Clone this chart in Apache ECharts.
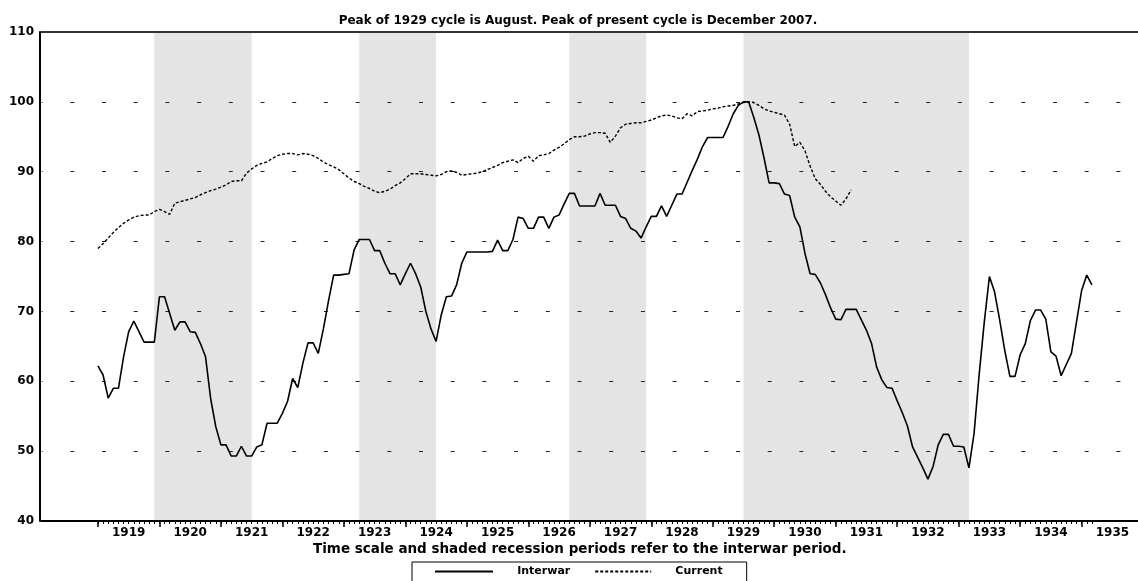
<!DOCTYPE html>
<html lang="en">
<head>
<meta charset="UTF-8">
<title>Interwar vs Current</title>
<script src="https://cdn.jsdelivr.net/npm/echarts@6/dist/echarts.min.js"></script>
<style>
  html, body { margin: 0; padding: 0; background: #fff; }
  #chart { width: 1138px; height: 581px; }
</style>
</head>
<body>
<div id="chart"></div>
<script type="text/javascript">
// monthly values, first point is Jan 1919; current is aligned so Dec 2007 = Aug 1929
var interwar = [
  62.2, 60.9, 57.6, 59.0, 59.0, 63.5, 67.1, 68.6, 67.1, 65.6, 65.6, 65.6,
  72.1, 72.1, 69.7, 67.3, 68.5, 68.5, 67.1, 67.0, 65.4, 63.5, 57.5, 53.5,
  50.9, 50.9, 49.3, 49.3, 50.7, 49.3, 49.3, 50.6, 50.9, 54.0, 54.0, 54.0,
  55.4, 57.1, 60.4, 59.1, 62.6, 65.5, 65.5, 64.0, 67.5, 71.5, 75.2, 75.2,
  75.3, 75.4, 78.8, 80.3, 80.3, 80.3, 78.7, 78.7, 76.9, 75.4, 75.4, 73.8,
  75.4, 76.9, 75.4, 73.5, 70.0, 67.5, 65.7, 69.5, 72.1, 72.2, 73.8, 76.9,
  78.5, 78.5, 78.5, 78.5, 78.5, 78.6, 80.2, 78.7, 78.7, 80.3, 83.5, 83.3,
  81.9, 81.9, 83.5, 83.5, 81.9, 83.5, 83.8, 85.4, 86.9, 86.9, 85.1, 85.1,
  85.1, 85.1, 86.9, 85.2, 85.2, 85.2, 83.6, 83.3, 81.9, 81.5, 80.5, 82.1,
  83.6, 83.6, 85.1, 83.6, 85.2, 86.8, 86.8, 88.5, 90.2, 91.8, 93.6, 94.9,
  94.9, 94.9, 94.9, 96.5, 98.3, 99.5, 100.0, 100.0, 97.8, 95.3, 92.0, 88.4,
  88.4, 88.3, 86.8, 86.6, 83.5, 82.1, 78.3, 75.4, 75.3, 74.1, 72.4, 70.5,
  68.9, 68.8, 70.3, 70.3, 70.3, 68.8, 67.3, 65.4, 62.0, 60.2, 59.1, 59.0,
  57.2, 55.5, 53.6, 50.6, 49.1, 47.6, 46.0, 47.8, 50.9, 52.4, 52.4, 50.7,
  50.7, 50.6, 47.6, 52.5, 61.0, 68.5, 75.0, 72.8, 68.8, 64.4, 60.7, 60.7,
  63.8, 65.4, 68.7, 70.2, 70.2, 68.9, 64.2, 63.6, 60.8, 62.4, 64.0, 68.5,
  73.0, 75.2, 73.8
];

var current = [
  79.0, 79.7, 80.5, 81.3, 82.0, 82.6, 83.1, 83.5, 83.7, 83.8, 83.8, 84.3,
  84.6, 84.3, 83.9, 85.5, 85.7, 85.9, 86.1, 86.3, 86.7, 87.0, 87.3, 87.5,
  87.8, 88.1, 88.6, 88.7, 88.7, 89.8, 90.4, 90.9, 91.2, 91.4, 91.9, 92.3,
  92.5, 92.6, 92.6, 92.4, 92.6, 92.5, 92.3, 91.9, 91.4, 91.0, 90.7, 90.3,
  89.7, 89.1, 88.6, 88.3, 87.9, 87.6, 87.2, 87.0, 87.2, 87.5, 88.0, 88.4,
  89.0, 89.7, 89.7, 89.7, 89.6, 89.5, 89.4, 89.6, 90.0, 90.1, 89.9, 89.5,
  89.6, 89.7, 89.8, 90.0, 90.3, 90.6, 90.9, 91.3, 91.5, 91.7, 91.3, 91.9,
  92.2, 91.5, 92.3, 92.4, 92.6, 93.1, 93.5, 94.0, 94.6, 95.0, 95.0, 95.1,
  95.4, 95.6, 95.6, 95.5, 94.2, 95.1, 96.3, 96.8, 96.9, 97.0, 97.0, 97.2,
  97.4, 97.7, 98.0, 98.1, 98.0, 97.7, 97.6, 98.3, 98.0, 98.6, 98.7, 98.8,
  99.0, 99.1, 99.3, 99.4, 99.5, 99.7, 99.9, 100.0, 99.9, 99.5, 99.0, 98.7,
  98.5, 98.3, 98.1, 96.8, 93.6, 94.2, 93.0, 90.8, 89.0, 88.2, 87.2, 86.4,
  85.8, 85.2, 86.1, 87.4
];

// shaded recession periods (interwar), from / to month
var recessions = [
  ['1919-12', '1921-07'],
  ['1923-04', '1924-07'],
  ['1926-09', '1927-12'],
  ['1929-07', '1933-03']
];

var yearLabels = ['1919', '1920', '1921', '1922', '1923', '1924', '1925', '1926', '1927',
                  '1928', '1929', '1930', '1931', '1932', '1933', '1934', '1935'];

function key(y, m) {
  return y + '-' + (m < 10 ? '0' : '') + m;
}

// category months on the axis: Feb 1918 .. Dec 1935
var months = [];
for (var y = 1918; y <= 1935; y++) {
  for (var m = 1; m <= 12; m++) {
    if (y == 1918 && m < 2) continue;
    months.push(key(y, m));
  }
}
var first = months.indexOf('1919-01');
var last = first + interwar.length - 1;

function pairs(vals) {
  return vals.map(function (v, i) { return [months[first + i], v]; });
}

var font = 'DejaVu Sans';
var chart = echarts.init(document.getElementById('chart'));

var option = {
  animation: false,
  title: {
    text: 'Peak of 1929 cycle is August. Peak of present cycle is December 2007.',
    left: 578,
    top: 15,
    padding: 0,
    textAlign: 'center',
    textStyle: { fontFamily: font, fontSize: 12, fontWeight: 'bold', color: '#000' }
  },
  legend: {
    left: 412,
    top: 562,
    padding: [4, 24, 10, 22],
    borderColor: '#000',
    borderWidth: 1,
    itemWidth: 58,
    itemHeight: 14,
    itemGap: 22,
    itemStyle: { opacity: 0 },
    formatter: '     {name}',
    textStyle: { fontFamily: font, fontSize: 11, fontWeight: 'bold', color: '#000' },
    data: ['Interwar', 'Current']
  },
  grid: { left: 41.6, right: -0.35, top: 32, bottom: 60 },
  xAxis: [
    {
      type: 'category',
      data: months,
      boundaryGap: false,
      position: 'bottom',
      z: 2,
      axisLine: { lineStyle: { color: '#000', width: 2 } },
      axisTick: {
        length: 3,
        interval: function (idx) { return idx >= first && idx <= last; },
        lineStyle: { color: '#000' }
      },
      axisLabel: { show: false },
      splitLine: { show: false },
      name: 'Time scale and shaded recession periods refer to the interwar period.',
      nameLocation: 'middle',
      nameGap: 21,
      nameTextStyle: { fontFamily: font, fontSize: 13.5, fontWeight: 'bold', color: '#000', padding: [0, 20, 0, 0] }
    },
    {
      type: 'category',
      data: months,
      boundaryGap: false,
      position: 'bottom',
      z: 2,
      axisLine: { show: false },
      axisTick: {
        length: 6,
        interval: function (idx) { return idx >= first && idx <= last && (idx - first) % 12 == 0; },
        lineStyle: { color: '#000', width: 1.5 }
      },
      axisLabel: {
        margin: 6,
        interval: function (idx, val) {
          return yearLabels.indexOf(val.slice(0, 4)) >= 0 && val.slice(5) == '07';
        },
        formatter: function (val) { return val.slice(0, 4); },
        fontFamily: font, fontSize: 12, fontWeight: 'bold', color: '#000'
      },
      splitLine: { show: false }
    },
    {
      type: 'category',
      data: months,
      boundaryGap: false,
      position: 'top',
      z: 2,
      axisLine: { lineStyle: { color: '#333', width: 2 } },
      axisTick: { show: false },
      axisLabel: { show: false },
      splitLine: { show: false }
    }
  ],
  yAxis: {
    type: 'value',
    min: 40,
    max: 110,
    interval: 10,
    offset: 1.6,
    z: 2,
    axisLine: { show: true, lineStyle: { color: '#000', width: 2 } },
    axisTick: { show: false },
    axisLabel: { margin: 6, fontFamily: font, fontSize: 12, fontWeight: 'bold', color: '#000' },
    splitLine: { lineStyle: { color: '#222', width: 1, type: [4, 27.7], dashOffset: 3 } }
  },
  series: [
    {
      name: 'Interwar',
      type: 'line',
      data: pairs(interwar),
      symbol: 'none',
      z: 3,
      itemStyle: { color: '#000' },
      lineStyle: { color: '#000', width: 1.6 },
      markArea: {
        silent: true,
        z: 1,
        itemStyle: { color: '#e4e4e4' },
        data: recessions.map(function (r) { return [{ xAxis: r[0] }, { xAxis: r[1] }]; })
      }
    },
    {
      name: 'Current',
      type: 'line',
      data: pairs(current),
      symbol: 'none',
      z: 3,
      itemStyle: { color: '#000' },
      lineStyle: { color: '#000', width: 1.4, type: [3, 2] }
    }
  ]
};

chart.setOption(option);
</script>
</body>
</html>
